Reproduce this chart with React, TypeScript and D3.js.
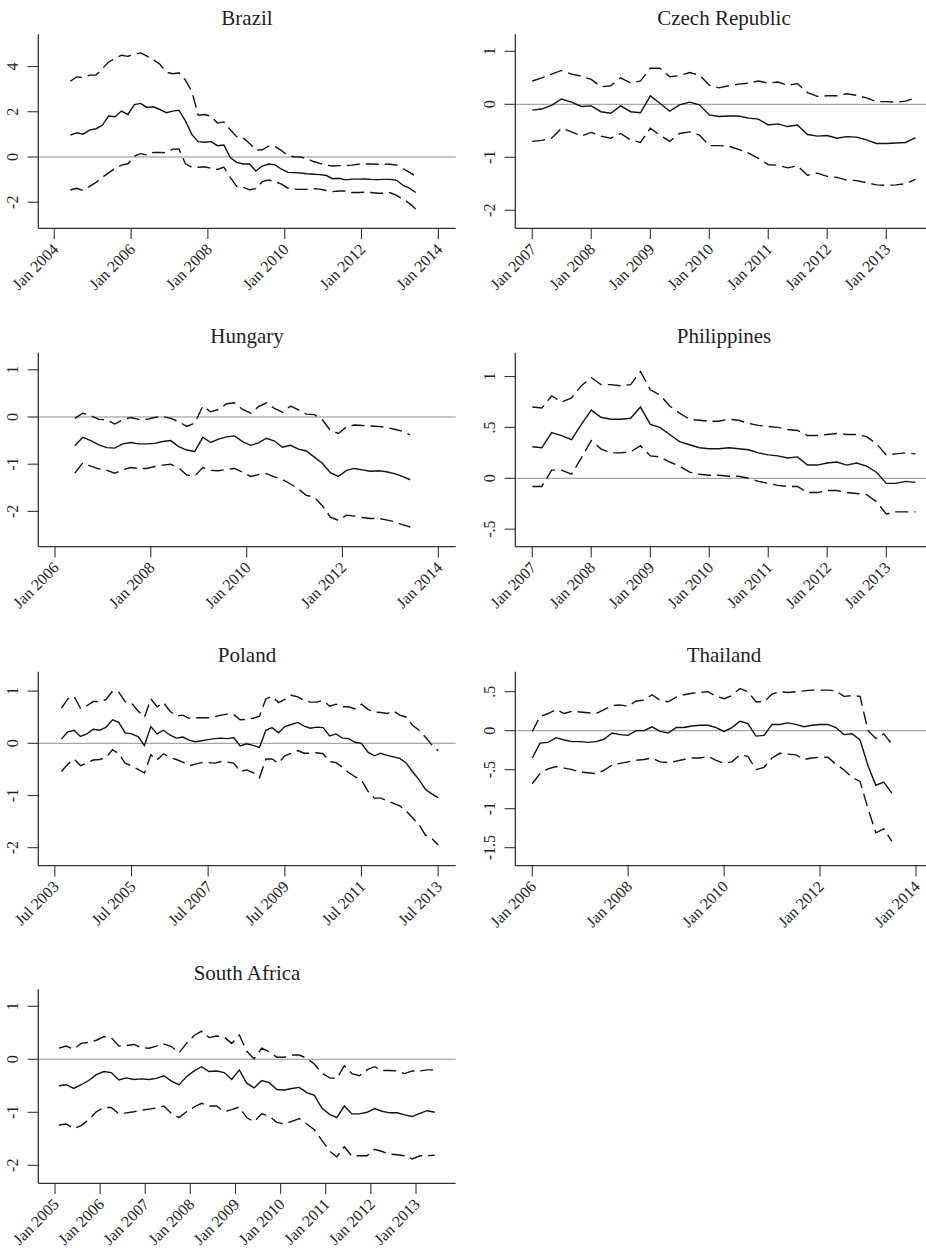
import React from "react";
import * as d3 from "d3";

// Monthly estimates sampled every second month, with upper and lower bands.

const brazilStart = "2004-06";
const brazilCenter = [0.97, 1.07, 1.01, 1.19, 1.25, 1.4, 1.81, 1.78, 2.03, 1.88, 2.32, 2.37, 2.19, 2.22, 2.1, 1.96, 2.03, 2.07, 1.6, 1.0, 0.68, 0.65, 0.68, 0.5, 0.53, -0.02, -0.24, -0.31, -0.31, -0.62, -0.4, -0.31, -0.35, -0.54, -0.68, -0.69, -0.71, -0.74, -0.76, -0.78, -0.82, -0.96, -0.94, -1.01, -0.98, -0.98, -0.97, -0.99, -1.0, -0.99, -0.99, -1.03, -1.26, -1.38, -1.57];
const brazilUpper = [3.35, 3.54, 3.51, 3.62, 3.62, 3.9, 4.2, 4.35, 4.5, 4.45, 4.55, 4.6, 4.46, 4.3, 4.1, 3.75, 3.68, 3.72, 3.4, 2.9, 1.85, 1.88, 1.8, 1.5, 1.55, 1.2, 0.9, 0.85, 0.6, 0.3, 0.32, 0.48, 0.46, 0.28, 0.06, 0.01, 0.0, -0.08, -0.2, -0.28, -0.36, -0.4, -0.38, -0.38, -0.36, -0.32, -0.31, -0.31, -0.32, -0.32, -0.32, -0.36, -0.52, -0.68, -0.85];
const brazilLower = [-1.46, -1.38, -1.48, -1.3, -1.12, -0.9, -0.7, -0.5, -0.36, -0.3, 0.04, 0.15, 0.09, 0.2, 0.2, 0.19, 0.35, 0.36, -0.3, -0.45, -0.45, -0.43, -0.5, -0.55, -0.45, -0.9, -1.3, -1.34, -1.45, -1.4, -1.09, -1.02, -1.09, -1.2, -1.38, -1.42, -1.43, -1.43, -1.4, -1.42, -1.48, -1.53, -1.5, -1.5, -1.57, -1.57, -1.56, -1.57, -1.6, -1.6, -1.58, -1.7, -1.88, -2.05, -2.3];
const brazilXTicks = ["Jan 2004", "Jan 2006", "Jan 2008", "Jan 2010", "Jan 2012", "Jan 2014"];
const brazilYTicks = [-2, 0, 2, 4];
const brazilYLabels = ["-2", "0", "2", "4"];

const czechStart = "2007-01";
const czechCenter = [-0.11, -0.09, -0.02, 0.1, 0.04, -0.04, -0.03, -0.14, -0.17, -0.03, -0.14, -0.16, 0.16, 0.02, -0.13, -0.01, 0.04, -0.01, -0.2, -0.23, -0.22, -0.22, -0.26, -0.28, -0.39, -0.37, -0.42, -0.39, -0.57, -0.6, -0.59, -0.64, -0.61, -0.62, -0.67, -0.74, -0.74, -0.73, -0.72, -0.63];
const czechUpper = [0.44, 0.5, 0.57, 0.64, 0.57, 0.53, 0.47, 0.33, 0.35, 0.5, 0.4, 0.44, 0.68, 0.68, 0.52, 0.54, 0.6, 0.55, 0.36, 0.31, 0.35, 0.38, 0.4, 0.44, 0.4, 0.42, 0.36, 0.39, 0.22, 0.15, 0.16, 0.16, 0.2, 0.17, 0.12, 0.05, 0.05, 0.04, 0.06, 0.12];
const czechLower = [-0.7, -0.68, -0.64, -0.45, -0.52, -0.6, -0.53, -0.6, -0.64, -0.55, -0.67, -0.72, -0.45, -0.58, -0.7, -0.55, -0.52, -0.58, -0.78, -0.78, -0.79, -0.85, -0.92, -1.02, -1.14, -1.15, -1.2, -1.16, -1.34, -1.3, -1.36, -1.38, -1.43, -1.44, -1.48, -1.52, -1.53, -1.52, -1.5, -1.41];
const czechXTicks = ["Jan 2007", "Jan 2008", "Jan 2009", "Jan 2010", "Jan 2011", "Jan 2012", "Jan 2013"];
const czechYTicks = [-2, -1, 0, 1];
const czechYLabels = ["-2", "-1", "0", "1"];

const hungaryStart = "2006-06";
const hungaryCenter = [-0.61, -0.43, -0.5, -0.59, -0.65, -0.66, -0.57, -0.54, -0.57, -0.57, -0.56, -0.52, -0.5, -0.63, -0.7, -0.73, -0.43, -0.54, -0.47, -0.42, -0.4, -0.52, -0.6, -0.55, -0.45, -0.51, -0.64, -0.6, -0.68, -0.72, -0.85, -0.98, -1.18, -1.26, -1.13, -1.09, -1.12, -1.15, -1.14, -1.16, -1.2, -1.26, -1.33];
const hungaryUpper = [-0.03, 0.08, 0.03, -0.05, -0.06, -0.15, -0.06, -0.01, -0.05, -0.05, -0.01, 0.01, -0.03, -0.1, -0.2, -0.13, 0.23, 0.11, 0.16, 0.28, 0.3, 0.16, 0.08, 0.22, 0.3, 0.18, 0.1, 0.23, 0.15, 0.06, 0.05, -0.06, -0.28, -0.35, -0.21, -0.17, -0.18, -0.19, -0.2, -0.22, -0.26, -0.3, -0.38];
const hungaryLower = [-1.19, -0.97, -1.04, -1.1, -1.13, -1.19, -1.12, -1.07, -1.09, -1.09, -1.05, -1.02, -1.0, -1.08, -1.23, -1.25, -1.07, -1.13, -1.14, -1.11, -1.09, -1.17, -1.26, -1.22, -1.2, -1.27, -1.32, -1.42, -1.53, -1.66, -1.7, -1.88, -2.12, -2.19, -2.08, -2.1, -2.13, -2.15, -2.15, -2.18, -2.22, -2.28, -2.33];
const hungaryXTicks = ["Jan 2006", "Jan 2008", "Jan 2010", "Jan 2012", "Jan 2014"];
const hungaryYTicks = [-2, -1, 0, 1];
const hungaryYLabels = ["-2", "-1", "0", "1"];

const philippinesStart = "2007-01";
const philippinesCenter = [0.31, 0.3, 0.45, 0.42, 0.38, 0.53, 0.67, 0.6, 0.58, 0.58, 0.59, 0.7, 0.53, 0.5, 0.43, 0.36, 0.33, 0.3, 0.29, 0.29, 0.3, 0.29, 0.28, 0.25, 0.23, 0.22, 0.2, 0.21, 0.13, 0.13, 0.15, 0.16, 0.13, 0.15, 0.12, 0.06, -0.05, -0.05, -0.03, -0.04];
const philippinesUpper = [0.7, 0.69, 0.81, 0.75, 0.79, 0.91, 0.99, 0.92, 0.92, 0.91, 0.92, 1.05, 0.87, 0.82, 0.71, 0.64, 0.58, 0.57, 0.56, 0.56, 0.58, 0.57, 0.54, 0.52, 0.51, 0.5, 0.48, 0.47, 0.42, 0.42, 0.43, 0.44, 0.43, 0.43, 0.41, 0.34, 0.23, 0.24, 0.25, 0.24];
const philippinesLower = [-0.08, -0.08, 0.08, 0.08, 0.04, 0.2, 0.37, 0.29, 0.25, 0.25, 0.26, 0.32, 0.22, 0.21, 0.16, 0.12, 0.06, 0.04, 0.03, 0.03, 0.02, 0.02, 0.0, -0.03, -0.05, -0.07, -0.08, -0.08, -0.14, -0.14, -0.12, -0.12, -0.14, -0.15, -0.16, -0.23, -0.35, -0.33, -0.33, -0.33];
const philippinesXTicks = ["Jan 2007", "Jan 2008", "Jan 2009", "Jan 2010", "Jan 2011", "Jan 2012", "Jan 2013"];
const philippinesYTicks = [-0.5, 0, 0.5, 1];
const philippinesYLabels = ["-.5", "0", ".5", "1"];

const polandStart = "2003-09";
const polandCenter = [0.08, 0.22, 0.25, 0.13, 0.18, 0.27, 0.25, 0.31, 0.45, 0.4, 0.2, 0.18, 0.13, -0.04, 0.32, 0.18, 0.25, 0.16, 0.1, 0.12, 0.06, 0.03, 0.05, 0.07, 0.09, 0.1, 0.09, 0.11, -0.05, -0.01, -0.04, -0.08, 0.25, 0.3, 0.2, 0.32, 0.36, 0.4, 0.33, 0.29, 0.31, 0.3, 0.14, 0.18, 0.1, 0.09, 0.02, 0.0, -0.17, -0.24, -0.19, -0.23, -0.26, -0.29, -0.38, -0.55, -0.7, -0.88, -0.97, -1.04];
const polandUpper = [0.67, 0.85, 0.9, 0.67, 0.72, 0.8, 0.8, 0.84, 1.0, 0.98, 0.8, 0.77, 0.62, 0.5, 0.85, 0.7, 0.78, 0.62, 0.52, 0.54, 0.48, 0.49, 0.49, 0.49, 0.51, 0.54, 0.56, 0.55, 0.45, 0.46, 0.48, 0.52, 0.85, 0.9, 0.78, 0.84, 0.92, 0.89, 0.82, 0.79, 0.79, 0.82, 0.71, 0.75, 0.7, 0.7, 0.66, 0.75, 0.65, 0.6, 0.59, 0.57, 0.62, 0.54, 0.5, 0.34, 0.25, 0.12, -0.03, -0.14];
const polandLower = [-0.54, -0.4, -0.3, -0.43, -0.38, -0.32, -0.31, -0.27, -0.12, -0.2, -0.38, -0.43, -0.5, -0.57, -0.22, -0.32, -0.2, -0.27, -0.31, -0.36, -0.43, -0.4, -0.37, -0.37, -0.38, -0.35, -0.36, -0.38, -0.54, -0.51, -0.56, -0.66, -0.3, -0.3, -0.38, -0.24, -0.19, -0.14, -0.19, -0.19, -0.18, -0.2, -0.35, -0.37, -0.46, -0.56, -0.64, -0.7, -0.92, -1.05, -1.05, -1.1, -1.15, -1.2, -1.3, -1.43, -1.56, -1.76, -1.82, -1.95];
const polandXTicks = ["Jul 2003", "Jul 2005", "Jul 2007", "Jul 2009", "Jul 2011", "Jul 2013"];
const polandYTicks = [-2, -1, 0, 1];
const polandYLabels = ["-2", "-1", "0", "1"];

const thailandStart = "2006-01";
const thailandCenter = [-0.35, -0.16, -0.15, -0.09, -0.12, -0.14, -0.14, -0.15, -0.14, -0.11, -0.03, -0.05, -0.06, 0.0, 0.0, 0.05, -0.01, -0.03, 0.04, 0.04, 0.06, 0.07, 0.07, 0.04, -0.01, 0.04, 0.12, 0.09, -0.07, -0.06, 0.08, 0.08, 0.1, 0.08, 0.05, 0.07, 0.08, 0.08, 0.04, -0.05, -0.04, -0.12, -0.45, -0.7, -0.66, -0.8];
const thailandUpper = [-0.01, 0.18, 0.22, 0.27, 0.22, 0.25, 0.24, 0.23, 0.22, 0.27, 0.32, 0.33, 0.31, 0.38, 0.39, 0.46, 0.39, 0.37, 0.43, 0.46, 0.48, 0.49, 0.5, 0.44, 0.41, 0.45, 0.54, 0.5, 0.37, 0.37, 0.47, 0.5, 0.49, 0.5, 0.51, 0.52, 0.52, 0.52, 0.51, 0.44, 0.45, 0.44, 0.0, -0.1, -0.04, -0.17];
const thailandLower = [-0.68, -0.55, -0.49, -0.46, -0.48, -0.5, -0.53, -0.54, -0.55, -0.51, -0.44, -0.42, -0.4, -0.38, -0.37, -0.35, -0.4, -0.41, -0.39, -0.37, -0.35, -0.35, -0.33, -0.38, -0.42, -0.4, -0.31, -0.33, -0.5, -0.47, -0.35, -0.29, -0.3, -0.31, -0.37, -0.35, -0.34, -0.34, -0.43, -0.5, -0.6, -0.65, -1.0, -1.31, -1.26, -1.42];
const thailandXTicks = ["Jan 2006", "Jan 2008", "Jan 2010", "Jan 2012", "Jan 2014"];
const thailandYTicks = [-1.5, -1, -0.5, 0, 0.5];
const thailandYLabels = ["-1.5", "-1", "-.5", "0", ".5"];

const southAfricaStart = "2005-02";
const southAfricaCenter = [-0.5, -0.48, -0.55, -0.48, -0.4, -0.29, -0.23, -0.25, -0.39, -0.35, -0.38, -0.37, -0.38, -0.36, -0.31, -0.41, -0.48, -0.33, -0.22, -0.14, -0.23, -0.22, -0.25, -0.38, -0.2, -0.45, -0.54, -0.4, -0.44, -0.57, -0.58, -0.55, -0.53, -0.63, -0.68, -0.92, -1.04, -1.1, -0.88, -1.03, -1.03, -1.0, -0.93, -0.98, -1.01, -1.01, -1.05, -1.08, -1.02, -0.97, -1.0];
const southAfricaUpper = [0.21, 0.25, 0.19, 0.3, 0.32, 0.36, 0.43, 0.41, 0.25, 0.26, 0.28, 0.22, 0.21, 0.25, 0.29, 0.24, 0.12, 0.3, 0.45, 0.53, 0.41, 0.44, 0.42, 0.3, 0.46, 0.15, 0.01, 0.21, 0.14, 0.04, 0.04, 0.08, 0.08, 0.02, -0.09, -0.26, -0.35, -0.36, -0.12, -0.27, -0.31, -0.2, -0.14, -0.21, -0.21, -0.22, -0.27, -0.22, -0.22, -0.2, -0.2];
const southAfricaLower = [-1.24, -1.22, -1.31, -1.25, -1.14, -0.99, -0.91, -0.91, -1.03, -1.01, -0.99, -0.96, -0.94, -0.92, -0.88, -1.02, -1.1, -0.99, -0.9, -0.83, -0.88, -0.88, -0.99, -0.95, -0.9, -1.1, -1.18, -1.03, -1.07, -1.19, -1.22, -1.17, -1.12, -1.22, -1.33, -1.53, -1.73, -1.84, -1.65, -1.83, -1.82, -1.82, -1.7, -1.74, -1.79, -1.8, -1.82, -1.88, -1.82, -1.82, -1.81];
const southAfricaXTicks = ["Jan 2005", "Jan 2006", "Jan 2007", "Jan 2008", "Jan 2009", "Jan 2010", "Jan 2011", "Jan 2012", "Jan 2013"];
const southAfricaYTicks = [-2, -1, 0, 1];
const southAfricaYLabels = ["-2", "-1", "0", "1"];

const W = 417.4;
const H = 194;
const colX = [38.3, 515.3];
const rowY = [34.3, 352.7, 671.7, 989.3];
const FONT = "'Liberation Serif', 'Times New Roman', serif";

const parseMonth = d3.utcParse("%Y-%m");
const parseTick = d3.utcParse("%b %Y");

function yearToDate(y: number) {
  const y0 = Math.floor(y);
  const a = Date.UTC(y0, 0, 1);
  const b = Date.UTC(y0 + 1, 0, 1);
  return new Date(a + (y - y0) * (b - a));
}

type PanelDef = {
  title: string;
  col: number;
  row: number;
  start: string;
  center: number[];
  upper: number[];
  lower: number[];
  xTicks: string[];
  yTicks: number[];
  yLabels: string[];
  xDomain: [number, number];
  yDomain: [number, number];
};

const panels: PanelDef[] = [
  { title: "Brazil", col: 0, row: 0, start: brazilStart, center: brazilCenter, upper: brazilUpper, lower: brazilLower, xTicks: brazilXTicks, yTicks: brazilYTicks, yLabels: brazilYLabels, xDomain: [2003.583, 2014.453], yDomain: [-3.152, 5.424] },
  { title: "Czech Republic", col: 1, row: 0, start: czechStart, center: czechCenter, upper: czechUpper, lower: czechLower, xTicks: czechXTicks, yTicks: czechYTicks, yLabels: czechYLabels, xDomain: [2006.712, 2013.787], yDomain: [-2.34, 1.321] },
  { title: "Hungary", col: 0, row: 1, start: hungaryStart, center: hungaryCenter, upper: hungaryUpper, lower: hungaryLower, xTicks: hungaryXTicks, yTicks: hungaryYTicks, yLabels: hungaryYLabels, xDomain: [2005.651, 2014.363], yDomain: [-2.748, 1.362] },
  { title: "Philippines", col: 1, row: 1, start: philippinesStart, center: philippinesCenter, upper: philippinesUpper, lower: philippinesLower, xTicks: philippinesXTicks, yTicks: philippinesYTicks, yLabels: philippinesYLabels, xDomain: [2006.712, 2013.787], yDomain: [-0.672, 1.234] },
  { title: "Poland", col: 0, row: 2, start: polandStart, center: polandCenter, upper: polandUpper, lower: polandLower, xTicks: polandXTicks, yTicks: polandYTicks, yLabels: polandYLabels, xDomain: [2003.064, 2013.954], yDomain: [-2.345, 1.372] },
  { title: "Thailand", col: 1, row: 2, start: thailandStart, center: thailandCenter, upper: thailandUpper, lower: thailandLower, xTicks: thailandXTicks, yTicks: thailandYTicks, yLabels: thailandYLabels, xDomain: [2005.646, 2014.349], yDomain: [-1.731, 0.756] },
  { title: "South Africa", col: 0, row: 3, start: southAfricaStart, center: southAfricaCenter, upper: southAfricaUpper, lower: southAfricaLower, xTicks: southAfricaXTicks, yTicks: southAfricaYTicks, yLabels: southAfricaYLabels, xDomain: [2004.63, 2013.88], yDomain: [-2.34, 1.321] },
];

function Panel({ p }: { p: PanelDef }) {
  const x = d3.scaleUtc([yearToDate(p.xDomain[0]), yearToDate(p.xDomain[1])], [0, W]);
  const y = d3.scaleLinear(p.yDomain, [H, 0]);
  const t0 = parseMonth(p.start)!;
  const dates = p.center.map((_, i) => d3.utcMonth.offset(t0, 2 * i));
  const line = d3.line<number>((_, i) => x(dates[i]), (d) => y(d));

  return (
    <g transform={`translate(${colX[p.col]},${rowY[p.row]})`}>
      <text x={W / 2} y={-9.3} textAnchor="middle" fontSize={21} fill="#222" fontFamily={FONT}>{p.title}</text>
      <line x1={0} x2={W} y1={y(0)} y2={y(0)} stroke="#8f8f8f" strokeWidth={1} />
      <path d={line(p.upper)!} fill="none" stroke="#111" strokeWidth={1.4} strokeDasharray="13,6" />
      <path d={line(p.lower)!} fill="none" stroke="#111" strokeWidth={1.4} strokeDasharray="13,6" />
      <path d={line(p.center)!} fill="none" stroke="#111" strokeWidth={1.4} />
      <line x1={0} x2={0} y1={0} y2={H} stroke="#333" strokeWidth={1.3} />
      <line x1={0} x2={W} y1={H} y2={H} stroke="#333" strokeWidth={1.3} />
      {p.yTicks.map((v, i) => (
        <g key={"y" + i} transform={`translate(0,${y(v)})`}>
          <line x1={-10.7} x2={0} stroke="#333" strokeWidth={1.1} />
          <text transform="translate(-20,0) rotate(-90)" textAnchor="middle" fontSize={16} fill="#222" fontFamily={FONT}>{p.yLabels[i]}</text>
        </g>
      ))}
      {p.xTicks.map((s, i) => {
        const tx = x(parseTick(s)!);
        return (
          <g key={"x" + i} transform={`translate(${tx},${H})`}>
            <line y1={0} y2={10.7} stroke="#333" strokeWidth={1.1} />
            <text transform="translate(5,22) rotate(-45)" textAnchor="end" fontSize={16} fill="#222" fontFamily={FONT}>{s}</text>
          </g>
        );
      })}
    </g>
  );
}

export default function App() {
  return (
    <svg width={926} height={1250} style={{ position: "absolute", left: 0, top: 0, background: "#fff" }}>
      <rect width={926} height={1250} fill="#fff" />
      {panels.map((p) => (
        <Panel key={p.title} p={p} />
      ))}
    </svg>
  );
}
